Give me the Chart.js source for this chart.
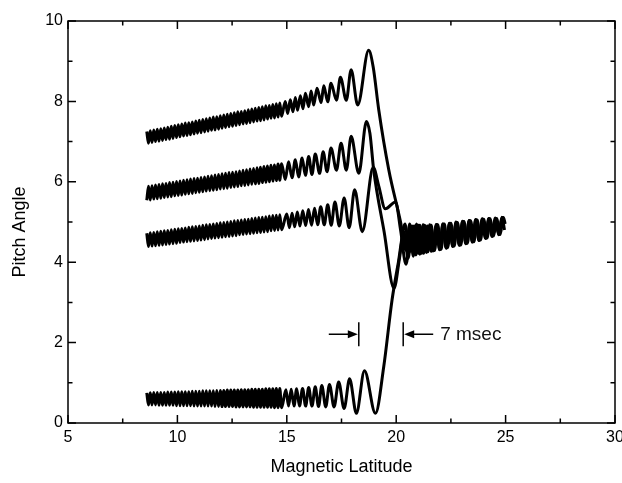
<!DOCTYPE html>
<html>
<head>
<meta charset="utf-8">
<script src="https://cdn.jsdelivr.net/npm/chart.js@4.4.1/dist/chart.umd.min.js"></script>
<style>
  html, body { margin: 0; padding: 0; background: #fff; }
  #chart { display: block; }
</style>
</head>
<body>
<canvas id="chart" width="622" height="483"></canvas>
<script>
// Axis ticks
const xMajorTicks = [5, 10, 15, 20, 25, 30];
const xMinorTicks = [7.5, 12.5, 17.5, 22.5, 27.5];
const yMajorTicks = [0, 2, 4, 6, 8, 10];
const yMinorTicks = [1, 3, 5, 7, 9];

// Shared latitude grid for the fast-oscillation part of every trace
const denseLat = [8.60, 8.68, 8.76, 8.84, 8.92, 9.00, 9.08, 9.16, 9.24, 9.32, 9.40, 9.48, 9.56,
    9.64, 9.72, 9.80, 9.88, 9.96, 10.04, 10.12, 10.20, 10.28, 10.36, 10.44, 10.52, 10.60, 10.68,
    10.76, 10.84, 10.92, 11.00, 11.08, 11.16, 11.24, 11.32, 11.40, 11.48, 11.56, 11.64, 11.72,
    11.80, 11.88, 11.96, 12.04, 12.12, 12.20, 12.28, 12.36, 12.44, 12.52, 12.60, 12.68, 12.76,
    12.84, 12.92, 13.00, 13.08, 13.16, 13.24, 13.32, 13.40, 13.48, 13.56, 13.64, 13.72, 13.80,
    13.88, 13.96, 14.04, 14.12, 14.20, 14.28, 14.36, 14.44, 14.52, 14.60, 14.68, 14.76];

// Pitch angle on the dense grid, one list per trace
const densePitchA = [7.25, 6.96, 7.27, 6.98, 7.29, 7.00, 7.31, 7.01, 7.32, 7.03, 7.34, 7.05, 7.36,
    7.06, 7.38, 7.08, 7.40, 7.10, 7.42, 7.12, 7.44, 7.14, 7.46, 7.15, 7.47, 7.17, 7.49, 7.19, 7.51,
    7.21, 7.53, 7.22, 7.55, 7.24, 7.57, 7.26, 7.59, 7.28, 7.61, 7.29, 7.62, 7.31, 7.64, 7.33, 7.66,
    7.35, 7.68, 7.37, 7.70, 7.38, 7.72, 7.40, 7.74, 7.42, 7.75, 7.44, 7.77, 7.45, 7.79, 7.47, 7.81,
    7.49, 7.83, 7.51, 7.85, 7.52, 7.87, 7.54, 7.89, 7.56, 7.90, 7.58, 7.92, 7.59, 7.94, 7.61, 7.96,
    7.63];
const densePitchB = [5.54, 5.89, 5.55, 5.90, 5.57, 5.92, 5.58, 5.93, 5.59, 5.95, 5.61, 5.96, 5.62,
    5.98, 5.63, 5.99, 5.65, 6.01, 5.66, 6.02, 5.67, 6.04, 5.69, 6.05, 5.70, 6.07, 5.71, 6.08, 5.73,
    6.09, 5.74, 6.11, 5.75, 6.12, 5.77, 6.14, 5.78, 6.15, 5.79, 6.17, 5.80, 6.18, 5.82, 6.20, 5.83,
    6.21, 5.84, 6.23, 5.86, 6.24, 5.87, 6.25, 5.88, 6.27, 5.90, 6.29, 5.91, 6.30, 5.92, 6.32, 5.94,
    6.33, 5.95, 6.35, 5.96, 6.36, 5.98, 6.38, 5.99, 6.39, 6.00, 6.41, 6.02, 6.42, 6.03, 6.44, 6.04,
    6.45];
const densePitchC = [4.72, 4.39, 4.73, 4.40, 4.74, 4.41, 4.76, 4.42, 4.77, 4.43, 4.78, 4.44, 4.79,
    4.45, 4.81, 4.46, 4.82, 4.47, 4.83, 4.49, 4.84, 4.50, 4.85, 4.51, 4.87, 4.52, 4.88, 4.53, 4.89,
    4.54, 4.90, 4.55, 4.92, 4.56, 4.93, 4.58, 4.94, 4.59, 4.95, 4.60, 4.96, 4.61, 4.98, 4.62, 4.99,
    4.63, 5.00, 4.64, 5.01, 4.65, 5.03, 4.66, 5.04, 4.68, 5.05, 4.69, 5.06, 4.70, 5.07, 4.71, 5.09,
    4.72, 5.10, 4.73, 5.11, 4.74, 5.12, 4.75, 5.13, 4.76, 5.15, 4.78, 5.16, 4.79, 5.17, 4.80, 5.18,
    4.81];
const densePitchD = [0.75, 0.45, 0.75, 0.45, 0.76, 0.45, 0.76, 0.44, 0.76, 0.44, 0.76, 0.44, 0.77,
    0.44, 0.77, 0.44, 0.77, 0.43, 0.78, 0.43, 0.78, 0.43, 0.78, 0.43, 0.78, 0.43, 0.79, 0.42, 0.79,
    0.42, 0.79, 0.42, 0.80, 0.42, 0.80, 0.42, 0.80, 0.42, 0.80, 0.41, 0.81, 0.41, 0.81, 0.41, 0.81,
    0.41, 0.82, 0.41, 0.82, 0.41, 0.82, 0.40, 0.82, 0.40, 0.83, 0.40, 0.83, 0.40, 0.83, 0.40, 0.84,
    0.39, 0.84, 0.39, 0.84, 0.39, 0.84, 0.39, 0.85, 0.39, 0.85, 0.39, 0.85, 0.38, 0.86, 0.38, 0.86,
    0.38];

// [latitude, pitch] turning points from 15 deg onwards
const traceA = [[14.93, 8.00], [15.04, 7.70], [15.16, 8.04], [15.28, 7.74], [15.39, 8.10], [15.49, 7.78],
    [15.62, 8.14], [15.74, 7.82], [15.85, 8.20], [16.00, 7.87], [16.11, 8.26], [16.23, 7.91],
    [16.38, 8.33], [16.57, 7.97], [16.69, 8.39], [16.87, 7.99], [17.02, 8.45], [17.27, 8.03],
    [17.45, 8.60], [17.72, 8.03], [17.94, 8.79], [18.24, 7.91], [18.74, 9.27], [18.95, 8.85],
    [19.20, 7.80], [19.66, 6.30], [20.20, 5.00], [20.45, 4.30], [20.62, 4.95], [20.78, 4.15],
    [20.93, 4.95], [21.08, 4.20], [21.23, 4.93], [21.38, 4.24], [21.53, 4.93], [21.68, 4.28],
    [21.83, 4.94], [21.98, 4.31], [22.13, 4.95], [22.28, 4.35], [22.43, 4.97], [22.58, 4.39],
    [22.73, 5.00], [22.88, 4.42], [23.03, 5.02], [23.18, 4.46], [23.33, 5.04], [23.48, 4.50],
    [23.63, 5.06], [23.78, 4.54], [23.93, 5.08], [24.08, 4.59], [24.23, 5.09], [24.38, 4.64],
    [24.53, 5.10], [24.68, 4.68], [24.83, 5.12], [24.95, 4.80]];
const traceB = [[14.93, 6.06], [15.08, 6.50], [15.24, 6.10], [15.39, 6.55], [15.54, 6.12], [15.70, 6.59],
    [15.85, 6.16], [16.00, 6.63], [16.15, 6.18], [16.30, 6.69], [16.50, 6.21], [16.66, 6.75],
    [16.84, 6.25], [17.02, 6.84], [17.27, 6.29], [17.48, 6.96], [17.72, 6.29], [17.94, 7.13],
    [18.29, 6.21], [18.64, 7.50], [18.80, 7.20], [18.97, 6.30], [19.45, 4.75], [19.90, 3.35],
    [20.15, 4.10], [20.40, 4.95], [20.60, 4.25], [20.82, 4.90], [21.02, 4.22], [21.30, 4.92],
    [21.45, 4.26], [21.60, 4.92], [21.75, 4.29], [21.90, 4.93], [22.05, 4.32], [22.20, 4.95],
    [22.35, 4.36], [22.50, 4.97], [22.65, 4.40], [22.80, 4.99], [22.95, 4.43], [23.10, 5.01],
    [23.25, 4.47], [23.40, 5.03], [23.55, 4.51], [23.70, 5.05], [23.85, 4.55], [24.00, 5.07],
    [24.15, 4.60], [24.30, 5.08], [24.45, 4.65], [24.60, 5.09], [24.75, 4.69], [24.90, 5.11],
    [24.98, 4.95]];
const traceC = [[15.00, 5.20], [15.12, 4.86], [15.24, 5.22], [15.36, 4.88], [15.48, 5.25], [15.60, 4.90],
    [15.73, 5.28], [15.86, 4.91], [15.99, 5.31], [16.13, 4.92], [16.27, 5.34], [16.41, 4.93],
    [16.55, 5.38], [16.71, 4.93], [16.87, 5.43], [17.03, 4.92], [17.20, 5.50], [17.40, 4.90],
    [17.62, 5.60], [17.85, 4.86], [18.10, 5.80], [18.45, 4.76], [18.95, 6.36], [19.20, 5.90],
    [19.50, 5.33], [19.97, 5.50], [20.20, 4.80], [20.45, 3.95], [20.68, 4.85], [20.86, 4.20],
    [21.02, 4.92], [21.16, 4.22], [21.28, 4.90], [21.42, 4.26], [21.56, 4.91], [21.70, 4.29],
    [21.85, 4.93], [21.99, 4.32], [22.14, 4.95], [22.29, 4.36], [22.44, 4.96], [22.59, 4.40],
    [22.74, 4.99], [22.89, 4.43], [23.04, 5.01], [23.19, 4.47], [23.34, 5.03], [23.49, 4.51],
    [23.64, 5.05], [23.79, 4.55], [23.94, 5.07], [24.09, 4.60], [24.24, 5.08], [24.39, 4.65],
    [24.54, 5.09], [24.69, 4.69], [24.84, 5.11], [24.93, 4.95]];
const traceD = [[14.96, 0.83], [15.08, 0.42], [15.20, 0.84], [15.33, 0.42], [15.45, 0.85], [15.58, 0.42],
    [15.72, 0.86], [15.86, 0.42], [16.00, 0.88], [16.15, 0.42], [16.30, 0.90], [16.45, 0.41],
    [16.60, 0.93], [16.78, 0.40], [16.95, 0.96], [17.16, 0.40], [17.37, 1.02], [17.62, 0.36],
    [17.87, 1.10], [18.18, 0.24], [18.55, 1.30], [19.05, 0.24], [19.43, 1.40], [19.81, 3.06],
    [20.10, 4.00], [20.35, 4.75], [20.55, 4.10], [20.72, 4.90], [20.90, 4.18], [21.08, 4.92],
    [21.25, 4.22], [21.42, 4.90], [21.60, 4.27], [21.86, 4.93], [22.01, 4.32], [22.16, 4.94],
    [22.31, 4.36], [22.46, 4.96], [22.61, 4.40], [22.76, 4.99], [22.91, 4.43], [23.06, 5.01],
    [23.21, 4.47], [23.36, 5.03], [23.51, 4.51], [23.66, 5.05], [23.81, 4.55], [23.96, 5.07],
    [24.11, 4.60], [24.26, 5.08], [24.41, 4.65], [24.56, 5.09], [24.71, 4.69], [24.86, 5.11],
    [24.94, 4.98]];

// Time-span marker (latitude of each bar, pitch level) and its label
const spanStart = 18.29;
const spanEnd = 20.32;
const spanLevel = 2.21;
const spanLabel = '7 msec';

const FONT = "'Liberation Sans', Arial, sans-serif";

function buildPoints(densePitch, trace) {
    const pts = denseLat.map((lat, i) => ({ x: lat, y: densePitch[i] }));
    trace.forEach(p => pts.push({ x: p[0], y: p[1] }));
    return pts;
}

function traceDataset(points) {
    return {
        data: points,
        showLine: true,
        borderColor: '#000',
        borderWidth: 3,
        pointRadius: 0,
        cubicInterpolationMode: 'monotone',
        fill: false
    };
}

// Frame, inward tick marks and the time-span arrows
const framePlugin = {
    id: 'frameAndMarker',
    afterDatasetsDraw(chart) {
        const { ctx, chartArea: a, scales: { x, y } } = chart;
        ctx.save();
        ctx.strokeStyle = '#000';
        ctx.lineWidth = 1.5;
        ctx.strokeRect(a.left, a.top, a.right - a.left, a.bottom - a.top);

        const tick = (px, len, vertical) => {
            ctx.beginPath();
            if (vertical) {
                ctx.moveTo(px, a.bottom); ctx.lineTo(px, a.bottom - len);
                ctx.moveTo(px, a.top); ctx.lineTo(px, a.top + len);
            } else {
                ctx.moveTo(a.left, px); ctx.lineTo(a.left + len, px);
                ctx.moveTo(a.right, px); ctx.lineTo(a.right - len, px);
            }
            ctx.stroke();
        };
        xMajorTicks.forEach(v => tick(x.getPixelForValue(v), 8, true));
        xMinorTicks.forEach(v => tick(x.getPixelForValue(v), 4.5, true));
        yMajorTicks.forEach(v => tick(y.getPixelForValue(v), 8, false));
        yMinorTicks.forEach(v => tick(y.getPixelForValue(v), 4.5, false));

        // marker bars with arrows pointing at them
        const yc = y.getPixelForValue(spanLevel);
        const x1 = x.getPixelForValue(spanStart);
        const x2 = x.getPixelForValue(spanEnd);
        ctx.lineWidth = 1.5;
        ctx.beginPath();
        ctx.moveTo(x1, yc - 12); ctx.lineTo(x1, yc + 12);
        ctx.moveTo(x2, yc - 12); ctx.lineTo(x2, yc + 12);
        ctx.moveTo(x1 - 30, yc); ctx.lineTo(x1 - 8, yc);
        ctx.moveTo(x2 + 8, yc); ctx.lineTo(x2 + 30, yc);
        ctx.stroke();
        ctx.fillStyle = '#000';
        ctx.beginPath();
        ctx.moveTo(x1 - 1, yc); ctx.lineTo(x1 - 11, yc - 4); ctx.lineTo(x1 - 11, yc + 4);
        ctx.closePath();
        ctx.fill();
        ctx.beginPath();
        ctx.moveTo(x2 + 1, yc); ctx.lineTo(x2 + 11, yc - 4); ctx.lineTo(x2 + 11, yc + 4);
        ctx.closePath();
        ctx.fill();

        ctx.font = '19px ' + FONT;
        ctx.textAlign = 'left';
        ctx.textBaseline = 'middle';
        ctx.fillStyle = '#111';
        ctx.fillText(spanLabel, x2 + 37, yc + 1);
        ctx.restore();
    }
};

const canvas = document.getElementById('chart');
new Chart(canvas.getContext('2d'), {
    type: 'scatter',
    data: {
        datasets: [
            traceDataset(buildPoints(densePitchA, traceA)),
            traceDataset(buildPoints(densePitchB, traceB)),
            traceDataset(buildPoints(densePitchC, traceC)),
            traceDataset(buildPoints(densePitchD, traceD))
        ]
    },
    options: {
        responsive: false,
        animation: false,
        devicePixelRatio: 1,
        layout: { padding: { left: 0, top: 21, right: 7, bottom: 0 } },
        plugins: {
            legend: { display: false },
            tooltip: { enabled: false }
        },
        scales: {
            x: {
                type: 'linear',
                min: 5,
                max: 30,
                grid: { display: false, drawTicks: false },
                border: { display: false },
                afterBuildTicks: scale => { scale.ticks = xMajorTicks.map(v => ({ value: v })); },
                afterFit: scale => {
                    scale.height = 60;
                    scale.paddingLeft = 0;
                    scale.paddingRight = 0;
                },
                ticks: {
                    color: '#000',
                    padding: 5,
                    maxRotation: 0,
                    font: { family: FONT, size: 16 }
                },
                title: {
                    display: true,
                    text: 'Magnetic Latitude',
                    color: '#000',
                    font: { family: FONT, size: 18 },
                    padding: { top: 0, bottom: 5 }
                }
            },
            y: {
                type: 'linear',
                min: 0,
                max: 10,
                grid: { display: false, drawTicks: false },
                border: { display: false },
                afterBuildTicks: scale => { scale.ticks = yMajorTicks.map(v => ({ value: v })); },
                afterFit: scale => {
                    scale.width = 68;
                    scale.paddingTop = 0;
                    scale.paddingBottom = 0;
                },
                ticks: {
                    color: '#000',
                    padding: 5,
                    font: { family: FONT, size: 16 }
                },
                title: {
                    display: true,
                    // trailing spaces push the rotated title a little lower
                    text: 'Pitch Angle    ',
                    color: '#000',
                    font: { family: FONT, size: 18 },
                    padding: { top: 9, bottom: 0 }
                }
            }
        }
    },
    plugins: [framePlugin]
});
</script>
</body>
</html>
